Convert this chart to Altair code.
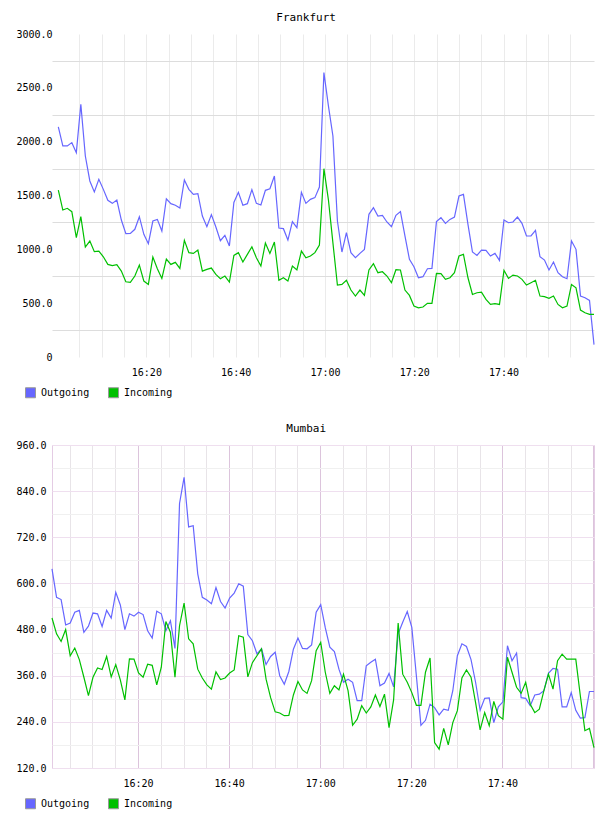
import altair as alt
import pandas as pd

series_names = ["Outgoing", "Incoming"]
series_colors = ["#6666ff", "#00c000"]

fra_out = [2137, 1960, 1960, 1991, 1898, 2347, 1867, 1635, 1533, 1650,
           1557, 1455, 1427, 1458, 1272, 1145, 1148, 1186, 1303, 1139,
           1052, 1263, 1278, 1170, 1470, 1424, 1409, 1384, 1644, 1557,
           1511, 1517, 1309, 1210, 1322, 1207, 1080, 1130, 1031, 1436,
           1529, 1409, 1424, 1554, 1427, 1412, 1548, 1563, 1681, 1198,
           1192, 1086, 1257, 1201, 1529, 1427, 1464, 1480, 1579, 2642,
           2332, 2053, 1263, 975, 1155, 969, 922, 962, 1000, 1325,
           1387, 1309, 1316, 1254, 1210, 1316, 1350, 1124, 907, 839,
           736, 746, 820, 823, 1257, 1294, 1241, 1278, 1300, 1495,
           1511, 1232, 975, 944, 993, 990, 938, 962, 897, 1272,
           1247, 1254, 1300, 1241, 1124, 1124, 1176, 931, 900, 808,
           882, 783, 746, 727, 1077, 1000, 566, 550, 526, 115]
fra_in = [1551, 1365, 1381, 1350, 1108, 1303, 1021, 1077, 978, 984,
          931, 860, 848, 857, 798, 699, 693, 752, 854, 705,
          674, 928, 820, 730, 910, 860, 879, 823, 1083, 969,
          962, 993, 798, 814, 826, 767, 727, 752, 696, 944,
          969, 882, 953, 1024, 922, 845, 1058, 962, 1068, 712,
          736, 705, 845, 808, 984, 922, 938, 969, 1040, 1749,
          1460, 1060, 668, 674, 712, 622, 566, 622, 572, 808,
          866, 783, 792, 752, 690, 811, 808, 622, 572, 473,
          457, 464, 498, 498, 777, 774, 721, 736, 783, 938,
          953, 736, 581, 597, 603, 535, 488, 495, 488, 805,
          730, 761, 752, 721, 668, 690, 712, 566, 560, 545,
          566, 488, 457, 473, 674, 643, 436, 411, 396, 396]
mum_out = [638, 564, 558, 492, 497, 525, 530, 473, 489, 523,
           521, 488, 530, 510, 577, 544, 480, 521, 515, 525,
           519, 477, 458, 528, 521, 477, 503, 431, 808, 876,
           747, 750, 625, 564, 557, 547, 589, 553, 536, 562,
           575, 599, 593, 467, 451, 417, 430, 389, 410, 421,
           360, 338, 371, 429, 458, 431, 430, 440, 525, 545,
           485, 434, 423, 377, 343, 351, 343, 295, 295, 386,
           395, 403, 334, 341, 366, 331, 469, 499, 527, 486,
           360, 231, 244, 286, 277, 258, 273, 270, 321, 412,
           443, 436, 402, 343, 270, 301, 302, 238, 279, 292,
           438, 399, 419, 303, 301, 282, 310, 312, 321, 366,
           379, 377, 279, 279, 316, 270, 250, 251, 319, 319]
mum_in = [510, 469, 449, 480, 412, 432, 402, 356, 308, 356,
          380, 376, 410, 357, 389, 349, 297, 404, 403, 367,
          356, 390, 387, 336, 382, 501, 473, 356, 490, 549,
          456, 443, 377, 354, 336, 325, 370, 350, 354, 367,
          375, 464, 460, 357, 394, 412, 430, 351, 303, 266,
          263, 256, 257, 310, 345, 323, 314, 347, 425, 447,
          369, 314, 334, 323, 364, 321, 231, 247, 282, 263,
          279, 310, 280, 312, 225, 297, 497, 364, 343, 316,
          283, 283, 369, 406, 186, 169, 223, 180, 238, 269,
          354, 375, 356, 290, 219, 264, 230, 293, 256, 247,
          408, 369, 330, 314, 343, 286, 264, 273, 321, 364,
          325, 399, 416, 403, 403, 403, 308, 217, 223, 173]

# sample time spans (first, last) and the visible time window (h, m, s)
fra_time_range = ("2024-01-01T16:00:17", "2024-01-01T18:00:16")
mum_time_range = ("2024-01-01T16:01:07", "2024-01-01T18:00:07")
fra_window = ((15, 58, 52), (18, 0, 16))
mum_window = ((16, 1, 7), (18, 0, 7))

# 5-minute tick grid (hour, minute)
fra_x_ticks = [(16, m) for m in range(5, 60, 5)] + [(17, m) for m in range(0, 60, 5)]
mum_x_ticks = fra_x_ticks + [(18, 0)]
fra_y_ticks = list(range(0, 3001, 250))
mum_y_ticks = list(range(120, 961, 60))

FONT = "DejaVu Sans Mono"


def make_df(out_vals, in_vals, trange):
    t = pd.date_range(trange[0], trange[1], periods=len(out_vals))
    a = pd.DataFrame({"time": t, "value": out_vals, "series": series_names[0]})
    b = pd.DataFrame({"time": t, "value": in_vals, "series": series_names[1]})
    return pd.concat([a, b], ignore_index=True)


def dt(h, m, s=0):
    return alt.DateTime(year=2024, month=1, date=1, hours=h, minutes=m, seconds=s)


def panel(df, title, width, y_domain, window, x_ticks, y_ticks, y_label_expr,
          x_grid_color, y_grid_color, y_grid_opacity, view_stroke, y_label_pad):
    x_enc = alt.X("time:T", title=None,
                  scale=alt.Scale(nice=False, domain=[dt(*window[0]), dt(*window[1])]),
                  axis=alt.Axis(values=[dt(h, m) for h, m in x_ticks],
                                format="%H:%M",
                                labelExpr="(minutes(datum.value) % 20 == 0 && hours(datum.value) < 18) ? datum.label : ''",
                                grid=True, gridColor=x_grid_color,
                                labelPadding=10, labelFlush=False))
    y_enc = alt.Y("value:Q", title=None,
                  scale=alt.Scale(domain=y_domain, nice=False, zero=False),
                  axis=alt.Axis(values=y_ticks, labelExpr=y_label_expr,
                                grid=True, gridColor=y_grid_color,
                                gridOpacity=y_grid_opacity,
                                labelPadding=y_label_pad))
    color_scale = alt.Scale(domain=series_names, range=series_colors)
    base = alt.Chart(df)
    lines = base.mark_line(strokeWidth=1.2).encode(
        x=x_enc, y=y_enc,
        color=alt.Color("series:N", scale=color_scale, legend=None,
                        sort=series_names),
    )
    leg = base.mark_square(size=100, opacity=1).encode(
        x=x_enc, y=y_enc,
        color=alt.Color("series:N", scale=color_scale, sort=series_names,
                        legend=alt.Legend(orient="none", legendX=-27, legendY=353,
                                          direction="horizontal", title=None,
                                          symbolType="square", symbolSize=100,
                                          symbolStrokeColor="#999999",
                                          symbolStrokeWidth=1,
                                          labelFont=FONT, labelFontSize=10,
                                          labelColor="#000000", labelOffset=5,
                                          columnPadding=16, padding=0)),
    ).transform_filter("false")
    return alt.layer(lines, leg).resolve_legend(color="independent").properties(
        width=width, height=323,
        title=alt.TitleParams(title, font=FONT, fontSize=11, fontWeight="normal",
                              color="#000000", anchor="middle", frame="bounds",
                              offset=6),
        view=alt.ViewBackground(stroke=view_stroke, strokeWidth=1),
    )


fra = panel(make_df(fra_out, fra_in, fra_time_range), "Frankfurt", 542, [0, 3000],
            fra_window, fra_x_ticks, fra_y_ticks,
            "datum.value % 500 == 0 ? (datum.value == 0 ? '0' : format(datum.value, '.1f')) : ''",
            "#ebebeb", "#dddddd",
            {"condition": {"test": "datum.value % 500 == 0", "value": 0}, "value": 1},
            "transparent", 0)

mum = panel(make_df(mum_out, mum_in, mum_time_range), "Mumbai", 542, [120, 960],
            mum_window, mum_x_ticks, mum_y_ticks,
            "datum.value % 120 == 0 ? format(datum.value, '.1f') : ''",
            {"condition": {"test": "minutes(datum.value) % 20 == 0", "value": "#dcc4dc"}, "value": "#e8e4e8"},
            {"condition": {"test": "datum.value % 120 == 0", "value": "#efdfef"}, "value": "#f0f0f0"},
            1,
            "#e4cce4", 6)

chart = alt.vconcat(fra, mum, spacing=21).properties(
    padding={"left": 15, "top": 11, "right": 10, "bottom": 5},
    background="white",
).configure_axis(
    labelFont=FONT, labelFontSize=10, labelColor="#000000",
    ticks=False, domain=False,
).configure_view(strokeWidth=1)

chart.save("out.html", embed_options={"renderer": "svg", "actions": False})
